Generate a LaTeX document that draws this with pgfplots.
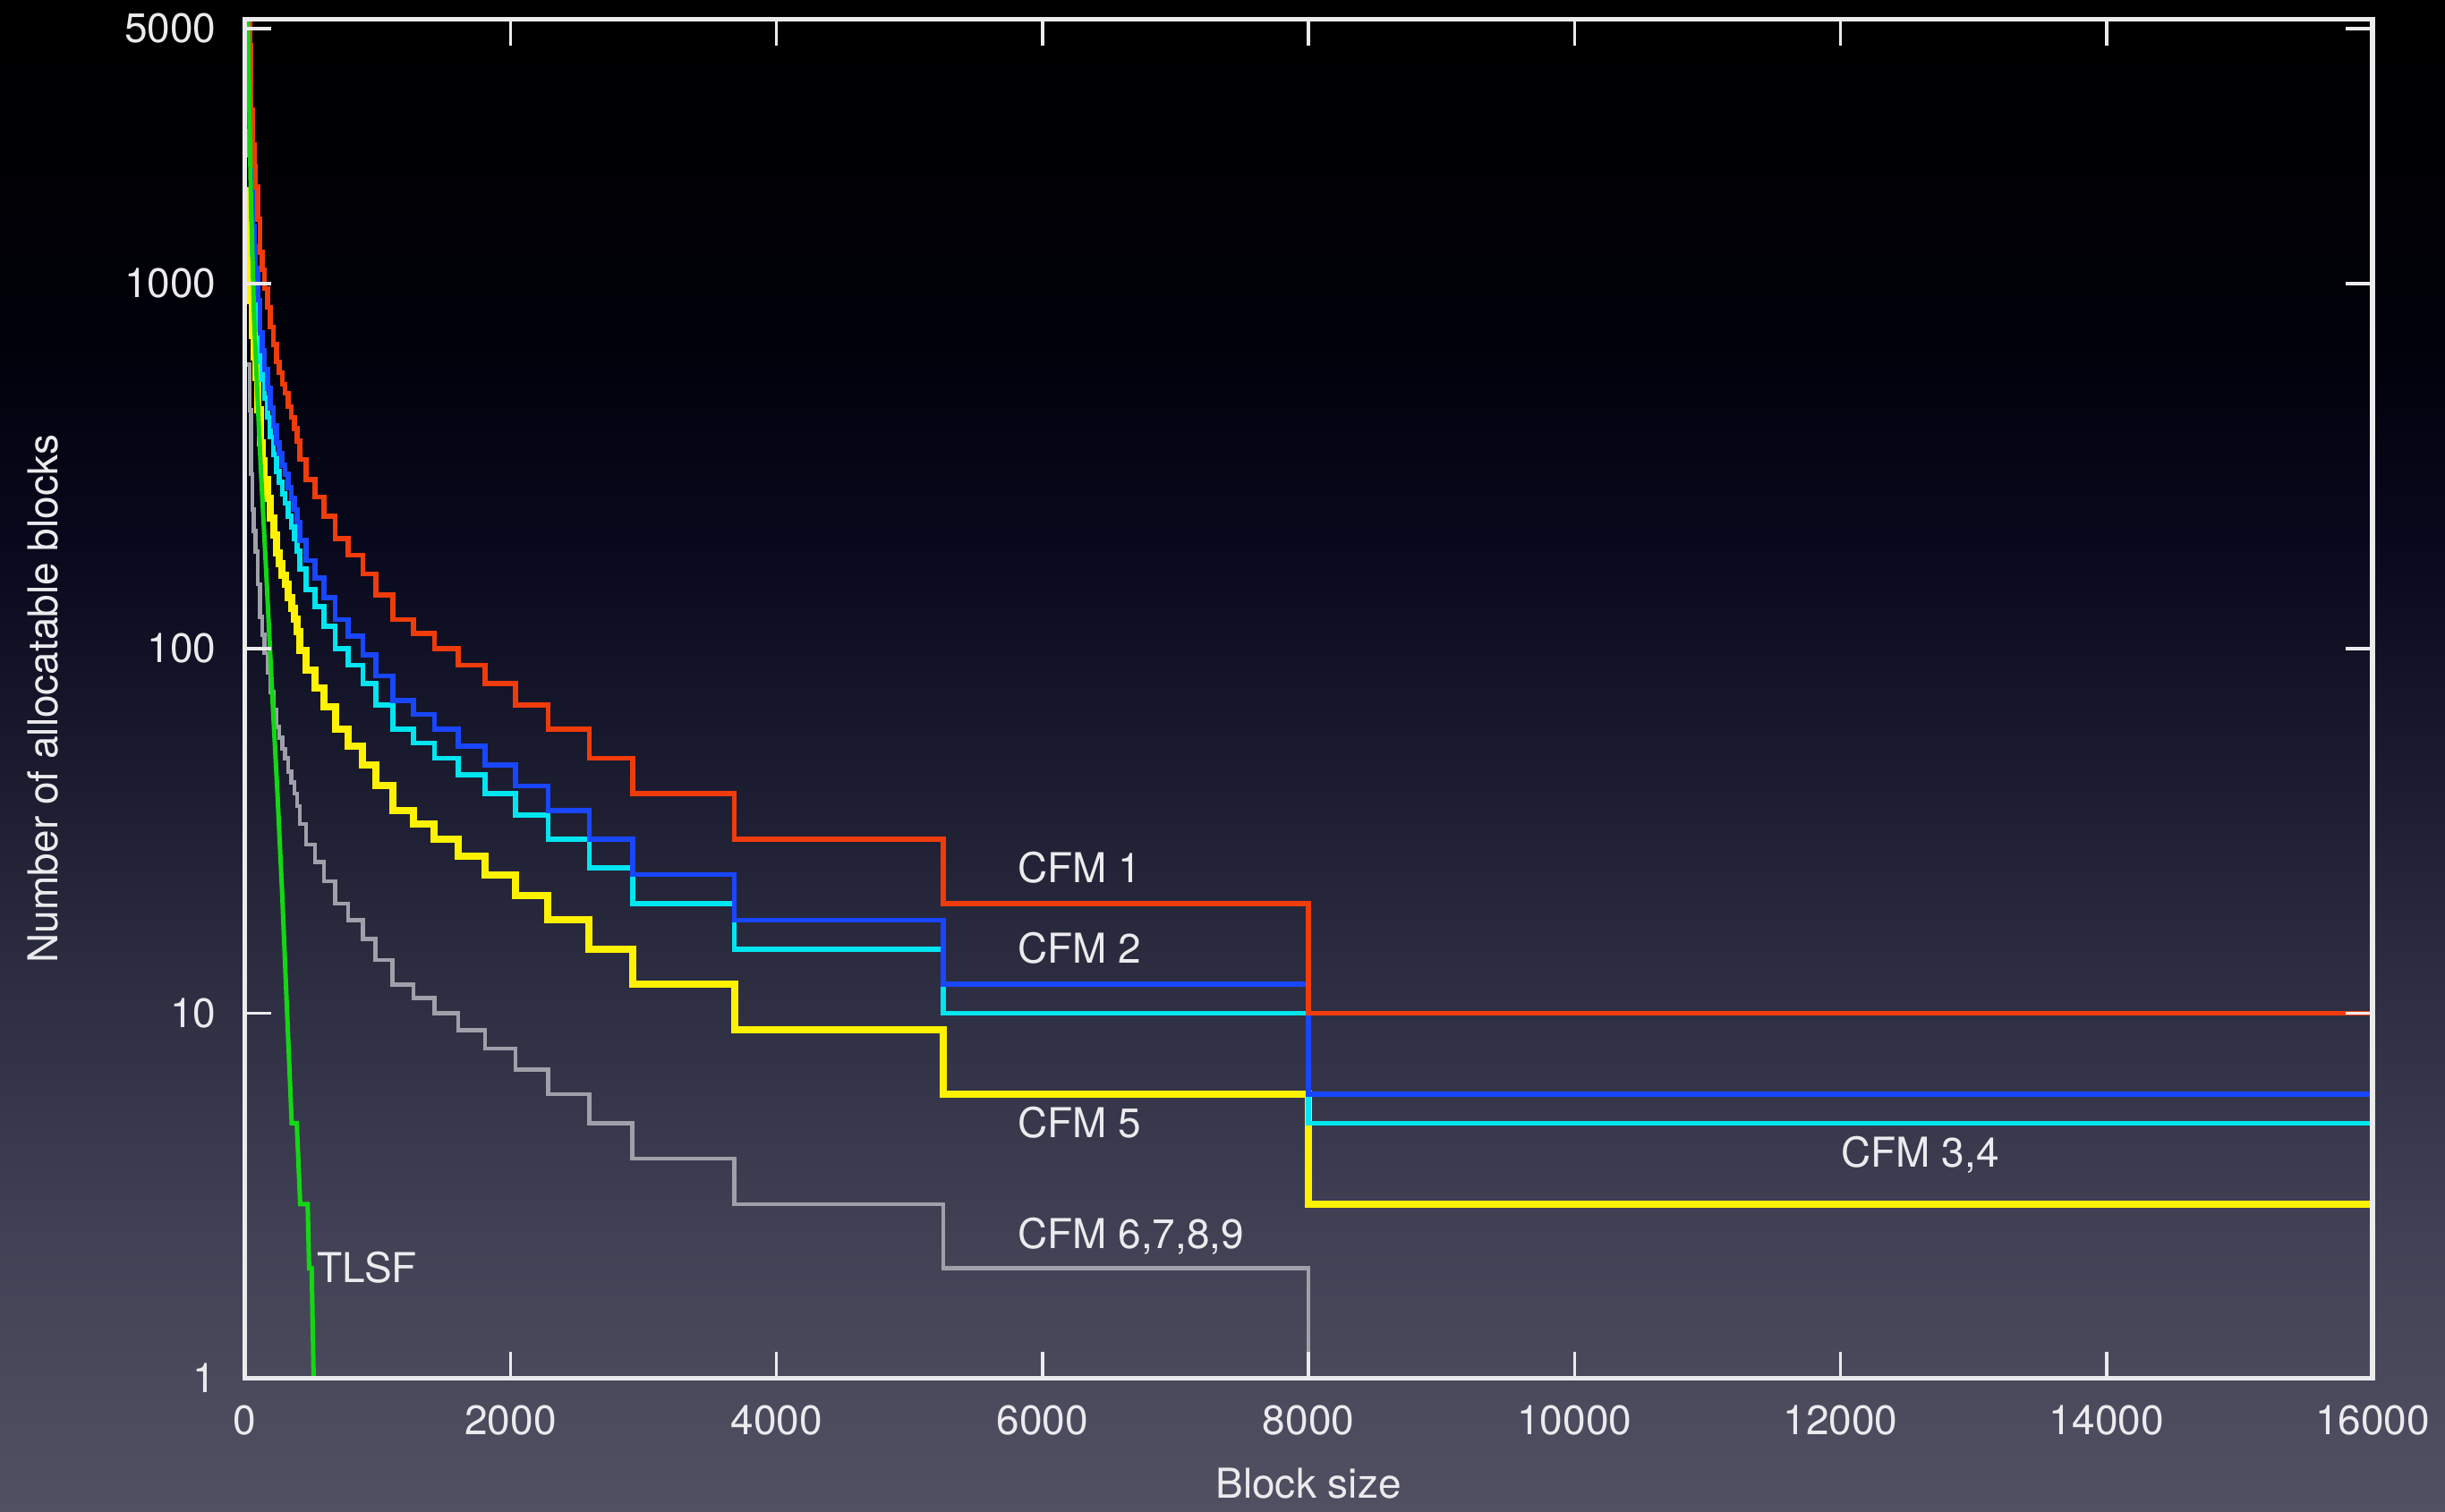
\documentclass[border=0pt]{standalone}
\usepackage{fontspec}
\setmainfont{TeX Gyre Heros}
\usepackage{pgfplots}
\usepackage{pgfplotstable}
\pgfplotsset{compat=1.18}

\definecolor{cfmred}{RGB}{240,60,10}
\definecolor{cfmblue}{RGB}{25,70,255}
\definecolor{cfmcyan}{RGB}{0,230,240}
\definecolor{cfmyellow}{RGB}{255,242,0}
\definecolor{cfmgray}{RGB}{160,160,170}
\definecolor{tlsfgreen}{RGB}{20,215,20}
\definecolor{txt}{RGB}{235,235,238}

\definecolor{bg0}{RGB}{80,80,98}
\definecolor{bg1}{RGB}{74,74,92}
\definecolor{bg2}{RGB}{66,66,86}
\definecolor{bg3}{RGB}{42,42,62}
\definecolor{bg4}{RGB}{30,30,50}
\definecolor{bg5}{RGB}{8,8,28}
\definecolor{bg6}{RGB}{0,0,8}
\definecolor{bg7}{RGB}{0,0,0}
\pgfdeclareverticalshading{bgshade}{100bp}{color(0bp)=(bg0); color(25bp)=(bg0); color(29bp)=(bg1); color(33.6bp)=(bg2); color(43.9bp)=(bg3); color(48.4bp)=(bg4); color(57.3bp)=(bg5); color(64.7bp)=(bg6); color(75bp)=(bg7); color(100bp)=(bg7)}

\newcommand{\lbl}{\fontsize{11.5}{13.8}\selectfont}

% x = block size where the step starts, values = number of allocatable blocks
\pgfplotstableread{
x     red   blue  cyan  yellow gray
20    6000  3600  3000  1800   600
39    4500  2700  2250  1350   450
49    3000  1800  1500  900    300
59    2400  1440  1200  720    240
71    2100  1260  1050  630    210
83    1840  1104  920   552    184
99    1500  900   750   450    150
117   1220  732   610   366    122
133   1090  654   545   327    109
150   970   582   485   291    97
173   860   516   430   258    86
195   760   456   380   228    76
218   680   408   340   204    68
240   610   366   305   183    61
262   570   342   285   171    57
284   530   318   265   159    53
306   500   300   250   150    50
329   460   276   230   138    46
352   430   258   215   129    43
375   400   240   200   120    40
396   370   222   185   111    37
417   330   198   165   99     33
464   290   174   145   87     29
531   260   156   130   78     26
598   230   138   115   69     23
682   200   120   100   60     20
778   180   108   90    54     18
889   160   96    80    48     16
986   140   84    70    42     14
1114  120   72    60    36     12
1270  110   66    55    33     11
1428  100   60    50    30     10
1607  90    54    45    27     9
1809  80    48    40    24     8
2038  70    42    35    21     7
2282  60    36    30    18     6
2592  50    30    25    15     5
2917  40    24    20    12     4
3683  30    18    15    9      3
5253  20    12    10    6      2
8000  10    6     5     3      1
16000 10    6     5     3      1
}\steps

\pgfplotstableread{
x    y
24   5300
31   4200
37   3000
47   1800
72   806
99   480
122  315
164  160
206  78
248  40
284  21
355  5
393  5
419  3
475  3
486  2
505  2
520  1
}\tlsf

\begin{document}
\begin{tikzpicture}
\useasboundingbox (0,0) rectangle (683pt,422.5pt);
\shade[shading=bgshade] (0,0) rectangle (683pt,422.5pt);
\begin{axis}[
  at={(68.3pt,37.4pt)}, anchor=south west,
  scale only axis, width=594.45pt, height=379.7pt,
  ymode=log, xmin=0, xmax=16000, ymin=1, ymax=5300,
  axis on top,
  axis line style={txt, line width=1.3pt},
  tick style={txt, line width=0.9pt},
  major tick length=7.5pt,
  tick align=inside,
  xtick={0,2000,4000,6000,8000,10000,12000,14000,16000},
  xticklabels={0,2000,4000,6000,8000,10000,12000,14000,16000},
  ytick={1,10,100,1000,5000},
  yticklabels={1,10,100,1000,5000},
  yminorticks=false,
  scaled x ticks=false,
  ticklabel style={font=\lbl, text=txt},
  xticklabel style={anchor=north, inner sep=0pt, yshift=-7.5pt},
  yticklabel style={anchor=east, inner sep=0pt, xshift=-7.75pt},
  xlabel={Block size},
  ylabel={Number of allocatable blocks},
  every axis x label/.style={at={(axis description cs:0.5,-0.0886)}, anchor=base, font=\lbl, text=txt},
  every axis y label/.style={at={(axis description cs:-0.0945,0.5)}, rotate=90, anchor=center, font=\lbl, text=txt},
  clip=true,
]
\addplot[const plot, cfmgray, line width=1.15pt, restrict x to domain=0:8000] table[x=x, y=gray] {\steps};
\addplot[const plot, cfmyellow, line width=2pt] table[x=x, y=yellow] {\steps};
\addplot[const plot, cfmcyan, line width=1.4pt] table[x=x, y=cyan] {\steps};
\addplot[const plot, cfmblue, line width=1.4pt] table[x=x, y=blue] {\steps};
\addplot[const plot, cfmred, line width=1.4pt] table[x=x, y=red] {\steps};
\addplot[tlsfgreen, line width=1.25pt] table[x=x, y=y] {\tlsf};

\node[anchor=base west, inner sep=0pt, text=txt, font=\lbl] at (axis cs:5808,22.8) {CFM 1};
\node[anchor=base west, inner sep=0pt, text=txt, font=\lbl] at (axis cs:5808,13.7) {CFM 2};
\node[anchor=base west, inner sep=0pt, text=txt, font=\lbl] at (axis cs:5808,4.56) {CFM 5};
\node[anchor=base west, inner sep=0pt, text=txt, font=\lbl] at (axis cs:5808,2.27) {CFM 6,7,8,9};
\node[anchor=base west, inner sep=0pt, text=txt, font=\lbl] at (axis cs:12000,3.78) {CFM 3,4};
\node[anchor=base west, inner sep=0pt, text=txt, font=\lbl] at (axis cs:540,1.83) {TLSF};
\end{axis}
\end{tikzpicture}
\end{document}
